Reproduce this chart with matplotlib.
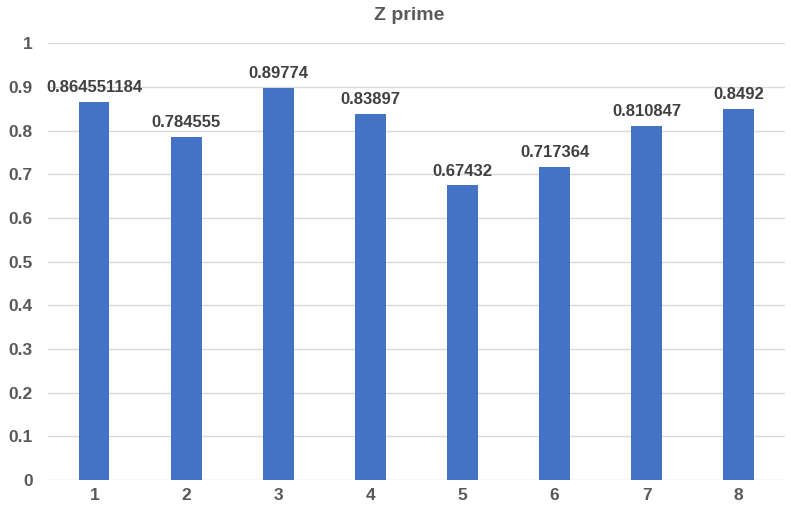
import matplotlib
matplotlib.use("Agg")
import matplotlib.pyplot as plt

categories = ["1", "2", "3", "4", "5", "6", "7", "8"]
values = [0.864551184, 0.784555, 0.89774, 0.83897, 0.67432, 0.717364, 0.810847, 0.8492]
labels = ["0.864551184", "0.784555", "0.89774", "0.83897", "0.67432", "0.717364", "0.810847", "0.8492"]
yticks = [0, 0.1, 0.2, 0.3, 0.4, 0.5, 0.6, 0.7, 0.8, 0.9, 1]

plt.rcParams["font.family"] = ["Liberation Sans", "DejaVu Sans"]
text_color = "#595959"

fig = plt.figure(figsize=(7.91, 5.09), dpi=100)
ax = fig.add_axes([0.061, 0.057, 0.931, 0.858])

x = range(len(categories))
ax.bar(x, values, width=0.33, color="#4472C4", zorder=3)

for xi, v, lab in zip(x, values, labels):
    ax.annotate(lab, (xi, v), xytext=(0, 5), textcoords="offset points",
                ha="center", va="bottom", fontsize=12, fontweight="bold",
                color="#404040", zorder=4)

ax.set_xlim(-0.5, len(categories) - 0.5)
ax.set_ylim(0, 1)
ax.set_yticks(yticks)
ax.set_yticklabels([f"{t:g}" for t in yticks])
ax.set_xticks(list(x))
ax.set_xticklabels(categories)
ax.grid(axis="y", color="#D9D9D9", linewidth=1, zorder=0)
for s in ax.spines.values():
    s.set_visible(False)
ax.tick_params(length=0, labelsize=12.5, labelcolor=text_color)
ax.tick_params(axis="x", pad=6)
ax.tick_params(axis="y", pad=11)
for t in ax.get_xticklabels() + ax.get_yticklabels():
    t.set_fontweight("bold")

fig.text(0.517, 0.9705, "Z prime", ha="center", va="center",
         fontsize=14, fontweight="bold", color=text_color)

fig.savefig("out.png", dpi=100)
